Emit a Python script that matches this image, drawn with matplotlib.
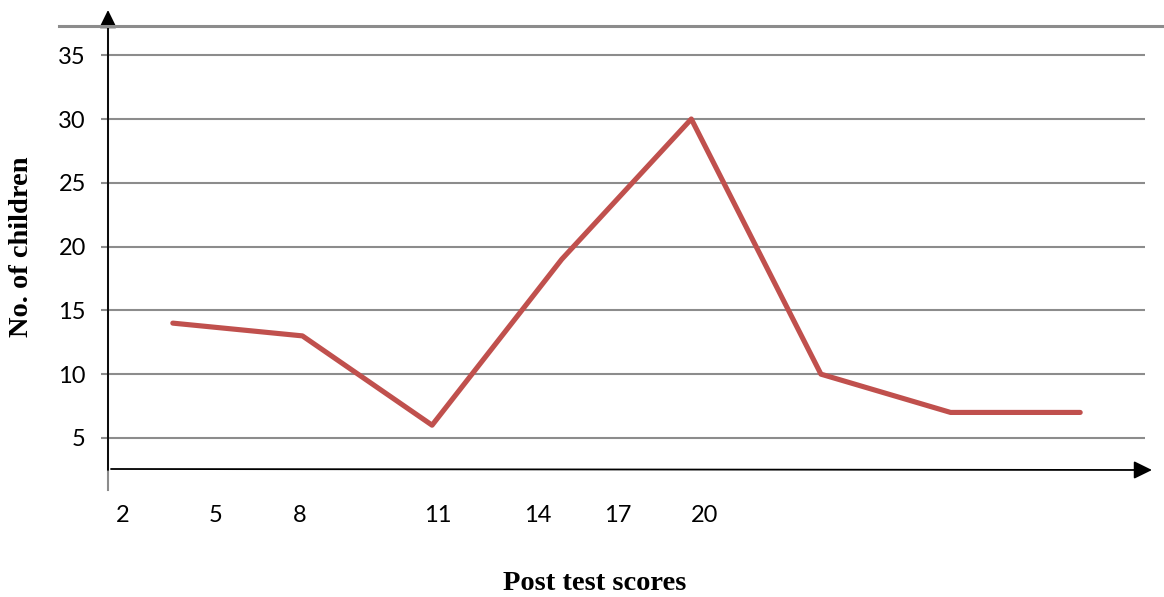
import numpy as np
import matplotlib
matplotlib.use("Agg")
import matplotlib.pyplot as plt
from matplotlib.lines import Line2D

# data
children = [14, 13, 6, 19, 30, 10, 7, 7]
score_labels = ["2", "5", "8", "11", "14", "17", "20"]
y_ticks = [5, 10, 15, 20, 25, 30, 35]

# where the score labels sit (in category units, they don't line up with points)
label_pos = [-0.384, 0.326, 0.982, 2.046, 2.818, 3.435, 4.106]

W, H = 1164, 597
fig = plt.figure(figsize=(W / 100, H / 100), dpi=100)


def fx(x):
    return x / W


def fy(y):
    return 1 - y / H


# axes box in pixels: left 108, right 1145, top 26, bottom 490
ax = fig.add_axes([fx(108), fy(490), fx(1145 - 108), (490 - 26) / H])

grid_col = "#8c8c8c"
x = np.arange(len(children))
ax.plot(x, children, color="#C0504D", lw=3.7, solid_capstyle="round",
        solid_joinstyle="round", zorder=3)

ax.set_xlim(-0.5, 7.5)
ax.set_ylim(0.92, 37.29)

ax.set_yticks(y_ticks)
ax.yaxis.grid(True, color=grid_col, lw=1.5)
ax.set_axisbelow(True)
ax.tick_params(axis="y", length=5, width=1.5, color=grid_col, pad=11,
               labelsize=17)
ax.set_xticks(label_pos)
ax.set_xticklabels(score_labels)
ax.tick_params(axis="x", length=0, pad=11, labelsize=17)
for lab in ax.get_xticklabels() + ax.get_yticklabels():
    lab.set_fontfamily("Lato")

for s in ["top", "right", "bottom"]:
    ax.spines[s].set_visible(False)
ax.spines["left"].set_color(grid_col)
ax.spines["left"].set_linewidth(1.5)

# thick border line across the top
fig.add_artist(Line2D([fx(59), fx(1164)], [fy(26), fy(26)], color=grid_col,
                      lw=2.2, transform=fig.transFigure))

# hand drawn axis arrows
arrow = dict(arrowstyle="-|>,head_length=0.55,head_width=0.27", color="black",
             lw=1.3, mutation_scale=20, shrinkA=0, shrinkB=0)
ax.annotate("", xy=(fx(108), fy(10)), xytext=(fx(108), fy(470)),
            xycoords="figure fraction", arrowprops=arrow)
ax.annotate("", xy=(fx(1152), fy(470)), xytext=(fx(111), fy(469)),
            xycoords="figure fraction", arrowprops=arrow)

fig.text(fx(595), fy(583), "Post test scores", ha="center", va="center",
         fontsize=20.5, fontweight="bold", family="Liberation Serif")
fig.text(fx(22), fy(247), "No. of children", ha="center", va="center",
         rotation=90, fontsize=20.5, fontweight="bold", family="Liberation Serif")

fig.savefig("out.png", dpi=100)
